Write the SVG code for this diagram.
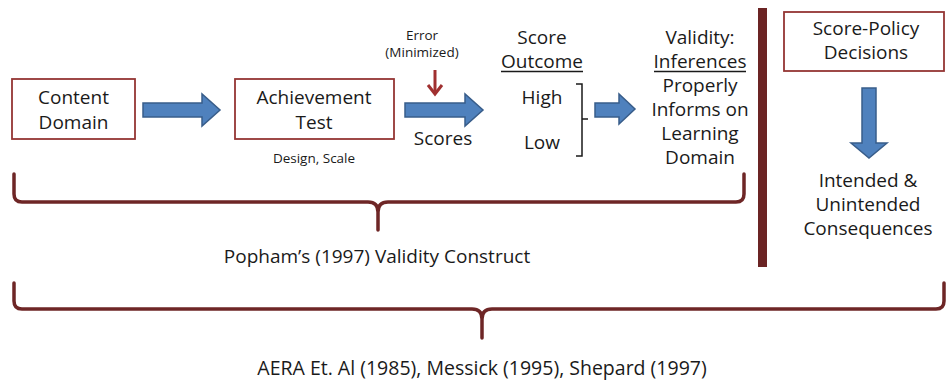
<svg xmlns="http://www.w3.org/2000/svg" width="946" height="381" viewBox="0 0 946 381">
<style>
text{font-family:"Open Sans","DejaVu Sans",sans-serif;fill:#1a1a1a;text-anchor:middle}
.t{font-size:19px}
.s{font-size:13.5px}
.big{font-size:19.5px}
.box{fill:#fff;stroke:#943634;stroke-width:1.8}
.arr{fill:#4f81bd;stroke:#385d8a;stroke-width:1.5}
.brace{fill:none;stroke:#6e2626;stroke-width:3.5;stroke-linecap:round}
.ul{stroke:#1a1a1a;stroke-width:1.4}
</style>
<rect width="946" height="381" fill="#fff"/>
<g id="content-domain">
<rect class="box" x="12" y="79" width="123" height="60"/>
<text class="t" x="73.5" y="104">Content</text>
<text class="t" x="73.5" y="129">Domain</text>
</g>
<g id="achievement-test">
<rect class="box" x="235" y="79" width="159" height="60"/>
<text class="t" x="314" y="104">Achievement</text>
<text class="t" x="314" y="129">Test</text>
<text class="s" x="314" y="163">Design, Scale</text>
</g>
<g id="error">
<text class="s" x="422" y="40">Error</text>
<text class="s" x="422" y="57">(Minimized)</text>
<path d="M435,70 L435,93" stroke="#a03030" stroke-width="3" fill="none"/>
<path d="M428,85 L435,94 L442,85" stroke="#a03030" stroke-width="3" fill="none"/>
</g>
<g id="scores">
<text class="t" x="443" y="145">Scores</text>
</g>
<g id="score-outcome">
<text class="t" x="542" y="44">Score</text>
<text class="t" x="542" y="68">Outcome</text>
<line class="ul" x1="501" y1="71.5" x2="583" y2="71.5"/>
<text class="t" x="542" y="104">High</text>
<text class="t" x="542" y="149">Low</text>
<path d="M576,84 L582,84 L582,156 L576,156 M582,119 L588,119" fill="none" stroke="#1a1a1a" stroke-width="1.5"/>
</g>
<g id="validity">
<text class="t" x="700" y="44">Validity:</text>
<text class="t" x="700" y="68">Inferences</text>
<line class="ul" x1="654" y1="71.5" x2="746" y2="71.5"/>
<text class="t" x="700" y="92">Properly</text>
<text class="t" x="700" y="116">Informs on</text>
<text class="t" x="700" y="140">Learning</text>
<text class="t" x="700" y="164">Domain</text>
</g>
<g id="score-policy">
<rect class="box" x="784" y="12" width="160" height="59"/>
<text class="t" x="866" y="35">Score-Policy</text>
<text class="t" x="866" y="59">Decisions</text>
</g>
<g id="consequences">
<text class="t" x="868" y="187">Intended &amp;</text>
<text class="t" x="868" y="211">Unintended</text>
<text class="t" x="868" y="235">Consequences</text>
</g>
<g id="divider">
<rect x="758" y="8" width="9" height="259" fill="#6b2424"/>
</g>
<g id="connectors">
<polygon class="arr" points="143,103 202,103 202,94 220,110 202,126 202,117 143,117"/>
<polygon class="arr" points="405,103 465,103 465,94 483,110 465,126 465,117 405,117"/>
<polygon class="arr" points="595,103 619,103 619,94 635,109 619,124 619,117 595,117"/>
<polygon class="arr" points="862,88 876,88 876,143 887,143 869,158 851,143 862,143"/>
</g>
<g id="popham-brace">
<path class="brace" d="M14,174 L14,194 Q14,202 22,202 L368,202 Q378,202 378,212 L378,230 M378,212 Q378,202 388,202 L736,202 Q744,202 744,194 L744,174"/>
<text class="t" x="377" y="263">Popham’s (1997) Validity Construct</text>
</g>
<g id="aera-brace">
<path class="brace" d="M14,283 L14,301 Q14,309 22,309 L472,309 Q482,309 482,319 L482,338 M482,319 Q482,309 492,309 L936,309 Q944,309 944,301 L944,283"/>
<text class="big" x="482" y="375">AERA Et. Al (1985), Messick (1995), Shepard (1997)</text>
</g>
</svg>
